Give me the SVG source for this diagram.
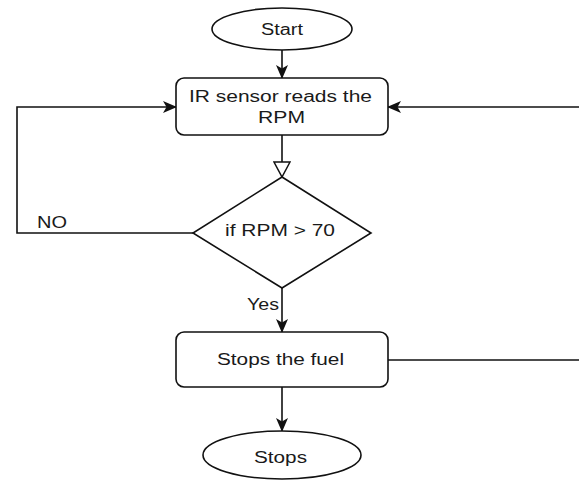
<svg xmlns="http://www.w3.org/2000/svg" width="579" height="481" viewBox="0 0 579 481">
  <style>
    .shape { fill: #ffffff; stroke: #111111; stroke-width: 1.6; }
    .edge { fill: none; stroke: #111111; stroke-width: 1.6; }
    .label { font-family: "Liberation Sans", Arial, sans-serif; font-size: 16px; fill: #1a1a1a; }
    .mid { text-anchor: middle; }
  </style>
  <defs>
    <marker id="arrow" markerUnits="userSpaceOnUse" markerWidth="14" markerHeight="12" viewBox="0 0 14 12" refX="13" refY="6" orient="auto">
      <path d="M0,0 L14,6 L0,12 L3.5,6 z" fill="#111111"/>
    </marker>
    <marker id="hollow" markerUnits="userSpaceOnUse" markerWidth="17" markerHeight="18" viewBox="0 0 17 18" refX="16" refY="9" orient="auto">
      <path d="M1,1 L16,9 L1,17 z" fill="#ffffff" stroke="#111111" stroke-width="1.5"/>
    </marker>
  </defs>
  <rect width="579" height="481" fill="#ffffff"/>

  <g id="connectors">
    <line class="edge" x1="282" y1="50" x2="282" y2="78" marker-end="url(#arrow)"/>
    <line class="edge" x1="282" y1="135" x2="282" y2="177" marker-end="url(#hollow)"/>
    <polyline class="edge" points="193,233 17,233 17,107 176,107" marker-end="url(#arrow)"/>
    <text class="label" x="37" y="228" textLength="30" lengthAdjust="spacingAndGlyphs">NO</text>
    <line class="edge" x1="282" y1="288" x2="282" y2="332" marker-end="url(#arrow)"/>
    <text class="label" x="247" y="310" textLength="32" lengthAdjust="spacingAndGlyphs">Yes</text>
    <polyline class="edge" points="388,360 579,360"/>
    <line class="edge" x1="579" y1="107" x2="388" y2="107" marker-end="url(#arrow)"/>
    <line class="edge" x1="282" y1="387" x2="282" y2="431" marker-end="url(#arrow)"/>
  </g>

  <g id="start">
    <ellipse class="shape" cx="282" cy="29" rx="70" ry="21"/>
    <text class="label mid" x="282" y="35" textLength="42" lengthAdjust="spacingAndGlyphs">Start</text>
  </g>

  <g id="read">
    <rect class="shape" x="176" y="78" width="212" height="57" rx="8"/>
    <text class="label" x="189" y="102" textLength="183" lengthAdjust="spacingAndGlyphs">IR sensor reads the</text>
    <text class="label" x="258" y="123" textLength="47" lengthAdjust="spacingAndGlyphs">RPM</text>
  </g>

  <g id="decision">
    <polygon class="shape" points="282,177 371,233 282,288 193,233"/>
    <text class="label" x="225" y="236" textLength="110" lengthAdjust="spacingAndGlyphs">if RPM &gt; 70</text>
  </g>

  <g id="stopfuel">
    <rect class="shape" x="176" y="332" width="212" height="55" rx="8"/>
    <text class="label" x="217" y="365" textLength="127" lengthAdjust="spacingAndGlyphs">Stops the fuel</text>
  </g>

  <g id="stops">
    <ellipse class="shape" cx="282" cy="455" rx="79" ry="24"/>
    <text class="label" x="254" y="463" textLength="53" lengthAdjust="spacingAndGlyphs">Stops</text>
  </g>
</svg>
